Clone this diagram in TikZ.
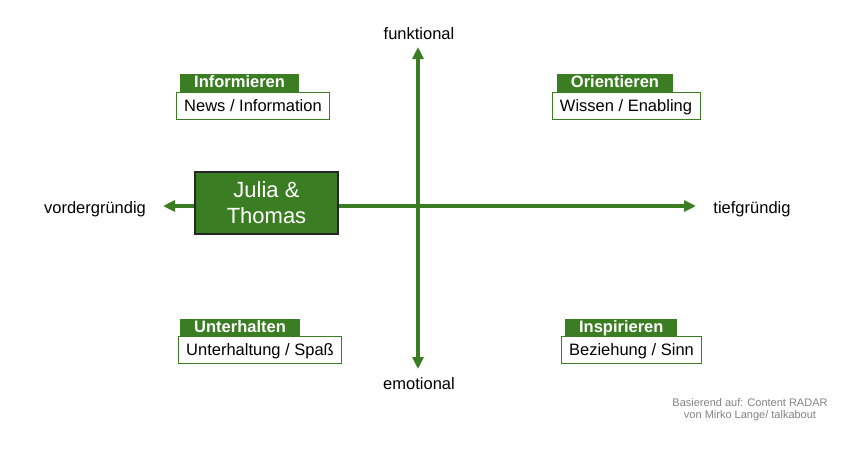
\documentclass[tikz,border=0pt]{standalone}
\usepackage{fontspec}
\setmainfont{Liberation Sans}
\usetikzlibrary{arrows.meta,positioning}
\definecolor{radargreen}{RGB}{59,125,35}
\definecolor{notegray}{RGB}{130,130,130}
\begin{document}
\begin{tikzpicture}[x=1pt,y=-1pt,inner sep=0pt,outer sep=0pt,
axis/.style={draw=radargreen,line width=3.2pt,{Triangle[width=11pt,length=12pt]}-{Triangle[width=11pt,length=12pt]}},
field/.style={draw=radargreen,fill=white,line width=0.8pt,inner xsep=8pt,minimum height=27pt,text height=12pt,text depth=0.5pt,font=\fontsize{16.5}{19}\selectfont},
tab/.style={fill=radargreen,text=white,inner xsep=14pt,minimum height=18pt,text height=12pt,text depth=2.5pt,anchor=south west,font=\fontsize{16.5}{19}\selectfont\bfseries},
person/.style={draw=black!85,fill=radargreen,text=white,line width=1.5pt,minimum width=143pt,minimum height=62pt,align=center,font=\fontsize{22}{26}\selectfont},
axislabel/.style={anchor=base,font=\fontsize{16.5}{19}\selectfont}]
\useasboundingbox (0,0) rectangle (850,450);
% axes
\coordinate (left) at (163,206);
\coordinate (right) at (696,206);
\coordinate (top) at (418,47);
\coordinate (bottom) at (418,369);
\draw[axis] (left) -- (right);
\draw[axis] (bottom) -- (top);
\node[axislabel] (funk) at (419,39) {funktional};
\node[axislabel] (emo) at (419,389) {emotional};
\node[axislabel] (vorder) at (95,213) {vordergründig};
\node[axislabel] (tief) at (752,213) {tiefgründig};
% quadrants
\node[field] (info) at (253,105.5) {News / Information};
\node[tab] (infotab) at ([xshift=4pt]info.north west) {Informieren};
\node[field] (orient) at (626,105.5) {Wissen / Enabling};
\node[tab] (orienttab) at ([xshift=5pt]orient.north west) {Orientieren};
\node[field] (unter) at (260,350) {Unterhaltung / Spaß};
\node[tab] (untertab) at ([xshift=2pt]unter.north west) {Unterhalten};
\node[field] (insp) at (631.5,350) {Beziehung / Sinn};
\node[tab] (insptab) at ([xshift=4pt]insp.north west) {Inspirieren};
% person
\node[person] (jt) at (266.5,203) {Julia \&\\Thomas};
\node[text=notegray,align=center,font=\fontsize{11}{12}\selectfont] (quelle) at (750,410) {Basierend auf: Content RADAR\\von Mirko Lange/ talkabout};
\end{tikzpicture}
\end{document}
